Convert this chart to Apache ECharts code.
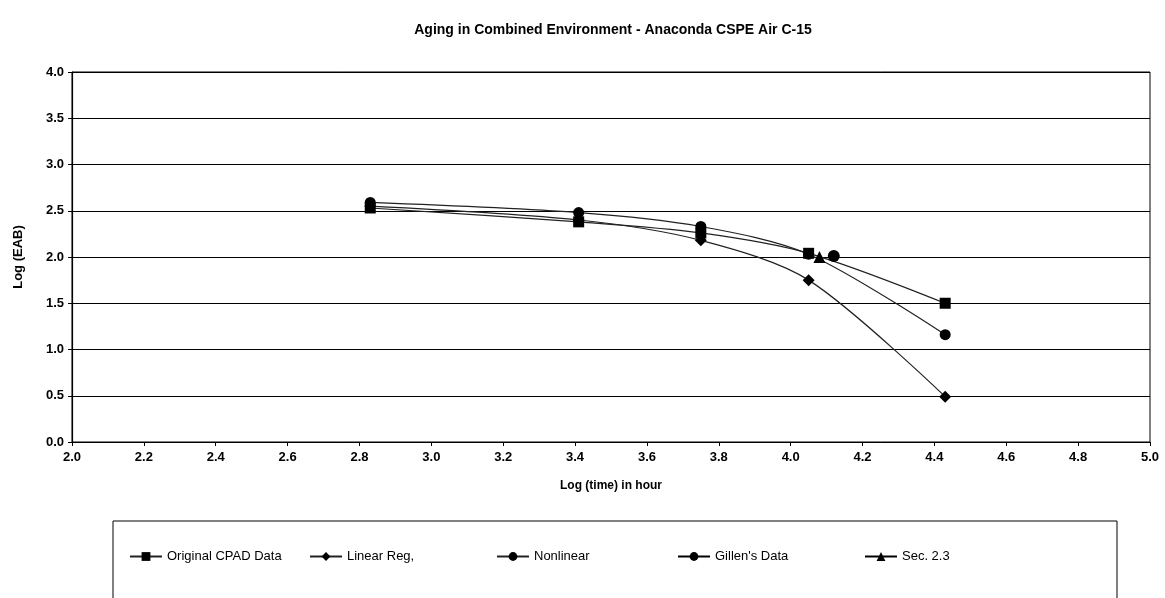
<!DOCTYPE html>
<html>
<head>
<meta charset="utf-8">
<script src="https://cdn.jsdelivr.net/npm/echarts@6/dist/echarts.min.js"></script>
<style>
  html, body { margin: 0; padding: 0; background: #fff; }
  #chart { width: 1165px; height: 598px; }
</style>
</head>
<body>
<div id="chart"></div>
<script>
// log(time) values shared by the three fitted series
var logTime = [2.83, 3.41, 3.75, 4.05, 4.43];
var cpadData = [2.53, 2.38, 2.26, 2.04, 1.50];
var linearReg = [2.55, 2.40, 2.18, 1.75, 0.49];
var nonlinear = [2.59, 2.48, 2.33, 2.03, 1.16];
// single-point series
var gillenX = [4.12];
var gillenY = [2.01];
var sec23X = [4.08];
var sec23Y = [2.00];

var seriesNames = ["Original CPAD Data", "Linear Reg,", "Nonlinear", "Gillen's Data", "Sec. 2.3"];

function pairs(xs, ys) {
  return xs.map(function (x, i) { return [x, ys[i]]; });
}

var font = "'Liberation Sans', Arial, sans-serif";
var legendLefts = [124, 304, 491, 672, 859];

var option = {
  animation: false,
  backgroundColor: "#fff",
  textStyle: { fontFamily: font, color: "#000" },
  title: {
    text: "Aging in Combined Environment - Anaconda CSPE Air C-15",
    left: 608,
    textAlign: "center",
    top: 18,
    textStyle: { fontFamily: font, fontSize: 14, fontWeight: "bold", color: "#000" }
  },
  grid: {
    left: 72,
    right: 15,
    top: 72,
    bottom: 156,
    show: true,
    borderColor: "#000",
    borderWidth: 1
  },
  graphic: [
    {
      // legend frame
      type: "rect",
      shape: { x: 113, y: 521, width: 1004, height: 90 },
      style: { fill: "none", stroke: "#000", lineWidth: 1 }
    }
  ],
  legend: seriesNames.map(function (name, i) {
    return {
      data: [name],
      left: legendLefts[i],
      top: 545,
      itemWidth: 32,
      itemHeight: 11,
      itemGap: 5,
      textStyle: { fontFamily: font, fontSize: 13, color: "#000" }
    };
  }),
  xAxis: {
    type: "value",
    min: 2,
    max: 5,
    interval: 0.2,
    name: "Log (time) in hour",
    nameLocation: "middle",
    nameGap: 38,
    nameTextStyle: { fontFamily: font, fontSize: 12, fontWeight: "bold", color: "#000" },
    axisLine: { lineStyle: { color: "#000", width: 1.2 } },
    axisTick: { show: true, length: 4, lineStyle: { color: "#000" } },
    axisLabel: {
      fontFamily: font, fontSize: 13, fontWeight: "bold", color: "#000", margin: 9,
      formatter: function (v) { return v.toFixed(1); }
    },
    splitLine: { show: false }
  },
  yAxis: {
    type: "value",
    min: 0,
    max: 4,
    interval: 0.5,
    name: "Log (EAB)",
    nameLocation: "middle",
    nameGap: 47,
    nameRotate: 90,
    nameTextStyle: { fontFamily: font, fontSize: 13, fontWeight: "bold", color: "#000" },
    axisLine: { show: true, lineStyle: { color: "#000", width: 1.2 } },
    axisTick: { show: true, length: 4, lineStyle: { color: "#000" } },
    axisLabel: {
      fontFamily: font, fontSize: 13, fontWeight: "bold", color: "#000", margin: 8,
      formatter: function (v) { return v.toFixed(1); }
    },
    splitLine: { show: true, lineStyle: { color: "#000", width: 1.2 } }
  },
  series: [
    {
      name: seriesNames[0],
      type: "line",
      smooth: 0.3,
      data: pairs(logTime, cpadData),
      symbol: "rect",
      symbolSize: 11,
      itemStyle: { color: "#000" },
      lineStyle: { color: "#222", width: 1.2 },
      z: 4
    },
    {
      name: seriesNames[1],
      type: "line",
      smooth: 0.3,
      data: pairs(logTime, linearReg),
      symbol: "diamond",
      symbolSize: 12,
      itemStyle: { color: "#000" },
      lineStyle: { color: "#222", width: 1.2 },
      z: 3
    },
    {
      name: seriesNames[2],
      type: "line",
      smooth: 0.3,
      data: pairs(logTime, nonlinear),
      symbol: "circle",
      symbolSize: 11,
      itemStyle: { color: "#000" },
      lineStyle: { color: "#222", width: 1.2 },
      z: 5
    },
    {
      name: seriesNames[3],
      type: "line",
      data: pairs(gillenX, gillenY),
      symbol: "circle",
      symbolSize: 12,
      itemStyle: { color: "#000" },
      lineStyle: { color: "#000", width: 1.2 },
      z: 6
    },
    {
      name: seriesNames[4],
      type: "line",
      data: pairs(sec23X, sec23Y),
      symbol: "triangle",
      symbolSize: 12,
      itemStyle: { color: "#000" },
      lineStyle: { color: "#000", width: 1.2 },
      z: 6
    }
  ]
};

var chart = echarts.init(document.getElementById("chart"), null, { renderer: "canvas" });
chart.setOption(option);
</script>
</body>
</html>
